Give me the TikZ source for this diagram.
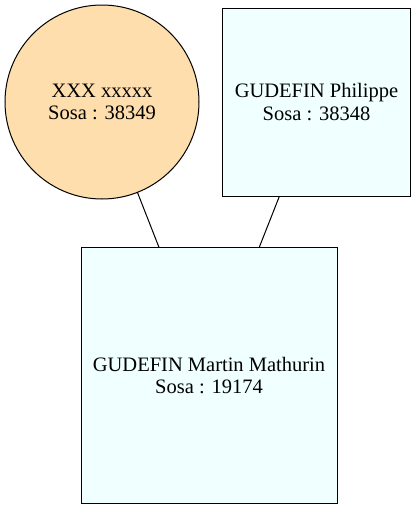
\documentclass[tikz,border=0pt]{standalone}
\usepackage{fontspec}
\setmainfont{Liberation Serif}
\definecolor{mere}{RGB}{255,222,173}
\definecolor{pere}{RGB}{240,255,255}

\def\dY{273.5}

\begin{document}
\begin{tikzpicture}[x=1pt,y=-1pt,
    person/.style={draw=black, line width=1pt, inner sep=0pt, outer sep=0pt,
                   align=center, font=\fontsize{20.5}{22.5}\selectfont}]
    \useasboundingbox (0,0) rectangle (416,509);

    %%   (lable)  (x, y)     {\text}
    \node[person, shape=circle, fill=mere, minimum size=194pt] (M)  at (102,   102)      {XXX xxxxx\\Sosa : 38349};
    \node[person, shape=rectangle, fill=pere, minimum size=188pt] (P)  at (316.5, 102)      {GUDEFIN Philippe\\Sosa : 38348};
    \node[person, shape=rectangle, fill=pere, minimum size=256pt] (E)  at (209,   102+\dY)  {GUDEFIN Martin Mathurin\\Sosa : 19174};

    \path[line width=1pt] (M) edge (E);
    \path[line width=1pt] (P) edge (E);

  \end{tikzpicture}
\end{document}
